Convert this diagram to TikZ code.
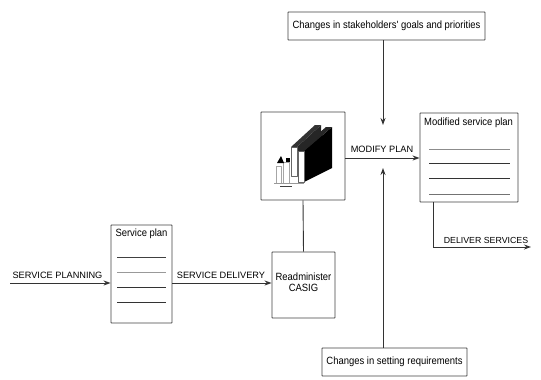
\documentclass[tikz,border=0pt]{standalone}
\usepackage{fontspec}
\setmainfont{Liberation Sans}
\newfontfamily\narrowsans[FakeStretch=0.9]{Liberation Sans}
\usetikzlibrary{arrows.meta}
\begin{document}
\begin{tikzpicture}[x=1pt,y=-1pt,
  box/.style={draw=black!75,line width=0.9pt,rounded corners=0.6pt,inner sep=0pt},
  conn/.style={draw=black!80,line width=0.9pt},
  arr/.style={conn,-{Stealth[length=7pt,width=5pt]}},
  lbl/.style={font=\fontsize{9.2}{10}\selectfont,inner sep=0pt,anchor=south},
  boxtxt/.style={font=\narrowsans\fontsize{10.5}{11}\selectfont,inner sep=0pt},
  rule/.style={draw=black!70,line width=0.8pt}]
\useasboundingbox (0,0) rectangle (541,380);

% boxes
\node[box,minimum width=197pt,minimum height=28pt] (top) at (386.5,26) {};
\node[boxtxt] at (top.center) {Changes in stakeholders' goals and priorities};
\node[box,minimum width=84pt,minimum height=88pt] (icon) at (303,156) {};
\node[box,minimum width=98pt,minimum height=89pt] (mod) at (469,157.5) {};
\node[boxtxt,anchor=north west] at (424,118) {Modified service plan};
\node[box,minimum width=63pt,minimum height=66pt] (read) at (303.5,285) {};
\node[boxtxt,align=center] at (303.5,282) {Readminister\\[0pt]CASIG};
\node[box,minimum width=61pt,minimum height=98pt] (sp) at (141.5,274) {};
\node[boxtxt,anchor=north] at (141.5,229) {Service plan};
\node[box,minimum width=145pt,minimum height=28pt] (bot) at (394.5,362) {};
\node[boxtxt] at (bot.center) {Changes in setting requirements};

% ruled lines inside the plan boxes
\foreach \yy/\c in {149/45,163/80,178/80,194/55}
  \draw[rule,draw=black!\c] (429,\yy) -- (510,\yy);
\foreach \yy/\c in {257/75,272/40,287/80,302/80}
  \draw[rule,draw=black!\c] (117,\yy) -- (166,\yy);

% chart icon: two tilted slabs and a few small bars
\begin{scope}[line join=round]
  % rear slab
  \fill[black!85] (297,147) -- (321,125) -- (321,150) -- (297,170) -- cycle;
  \draw[black!60,fill=white,line width=0.4pt] (291,147) rectangle (297,176);
  \fill[black!80] (291,147) -- (297,147) -- (321,125) -- (315,125) -- cycle;
  % front slab
  \fill[black] (304,151) -- (332,127) -- (332,168) -- (304,182) -- cycle;
  \draw[black!60,fill=white,line width=0.4pt] (298,151) rectangle (304,182);
  \fill[black!85] (298,151) -- (304,151) -- (332,127) -- (326,127) -- cycle;
  % small bars
  \draw[black!35,line width=0.4pt] (276,166) rectangle (281,183);
  \draw[black!35,line width=0.4pt] (283,162) rectangle (289,183);
  \fill[black] (277,163) -- (281,156) -- (284,163) -- cycle;
  \fill[black] (286,162) rectangle (290,158);
  \draw[black!40,line width=0.4pt] (274,183) -- (304,183);
  \draw[black!75,line width=0.9pt] (280,186) -- (292,186);
\end{scope}

% connectors
\coordinate (plan0) at (10,283);
\coordinate (cA) at (383,125);
\coordinate (cB) at (383,168);
\coordinate (bend) at (433,247);
\coordinate (out) at (531,247);

\draw[arr] (plan0) -- (sp.west |- plan0);
\draw[arr] (sp.east |- plan0) -- (read.west |- plan0);
\draw[arr] (icon.east |- 0,158) -- (mod.west |- 0,158);
\draw[arr] (top.south -| cA) -- (cA);
\draw[arr] (bot.north -| cB) -- (cB);
\draw[conn] (icon.south) -- (read.north);
\draw[arr] (mod.south -| bend) -- (bend) -- (out);

% connector labels
\node[lbl] at (57.5,279) {SERVICE PLANNING};
\node[lbl] at (221,279) {SERVICE DELIVERY};
\node[lbl] at (382,153) {MODIFY PLAN};
\node[lbl,font=\fontsize{8.8}{10}\selectfont] at (486,244) {DELIVER SERVICES};
\end{tikzpicture}
\end{document}
